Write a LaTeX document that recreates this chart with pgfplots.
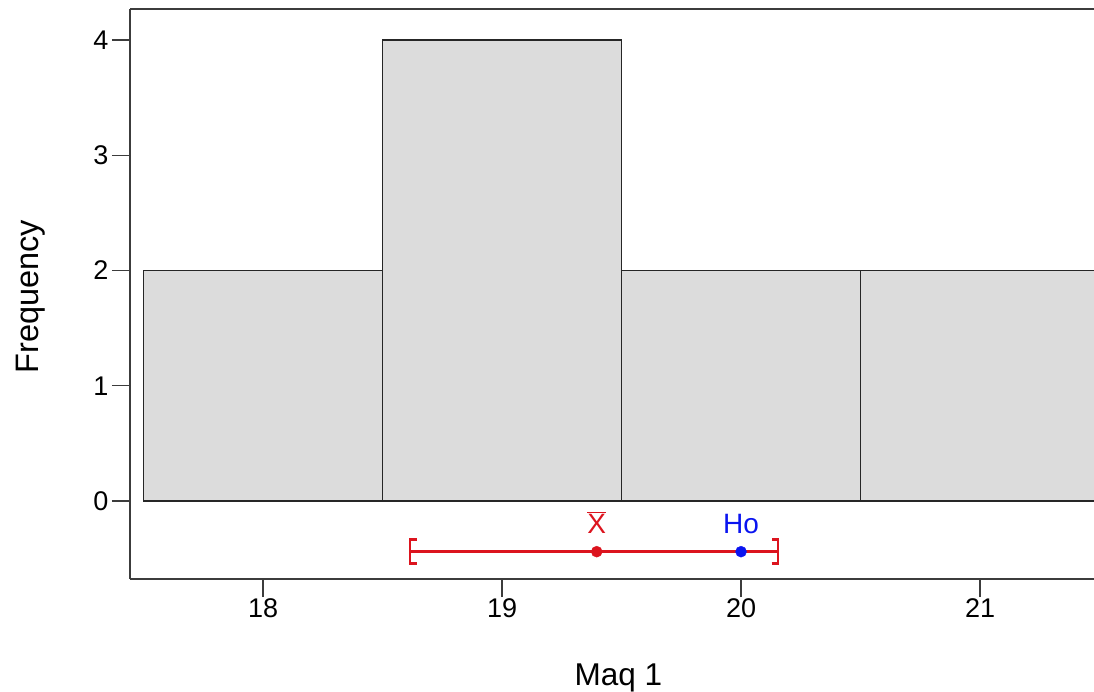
\documentclass[border=0pt]{standalone}
\usepackage{pgfplots}
\pgfplotsset{compat=1.18}
\usepackage{fontspec}
\setmainfont{Liberation Sans}
\definecolor{barfill}{RGB}{220,220,220}
\definecolor{cired}{RGB}{220,20,30}
\definecolor{hoblue}{RGB}{10,20,240}
\definecolor{axgray}{RGB}{60,60,60}
\begin{document}
\begin{tikzpicture}[x=1pt,y=1pt]
\begin{axis}[
 name=ax,
 at={(130pt,113pt)}, anchor=south west,
 scale only axis, width=964pt, height=570pt,
 xmin=17.443, xmax=21.477, ymin=-0.677, ymax=4.269,
 axis x line*=bottom, axis y line*=left,
 axis line style={axgray, line width=1.6pt},
 xtick={18,19,20,21}, ytick={0,1,2,3,4},
 tick align=outside, major tick length=18pt,
 tick style={axgray, line width=1.4pt},
 ticklabel style={font=\fontsize{27}{31}\selectfont},
 xticklabel style={yshift=2pt},
 /pgf/number format/assume math mode=true,
 xlabel={Maq 1}, ylabel={Frequency},
 every axis x label/.style={at={(axis description cs:0.5067,-0.186)}, anchor=base, font=\fontsize{31.5}{37}\selectfont},
 every axis y label/.style={at={(axis description cs:-0.0954,0.495)}, anchor=base, rotate=90, font=\fontsize{32.5}{38}\selectfont},
]
\addplot[ybar interval, fill=barfill, draw=black!85, line width=1.4pt]
  coordinates {(17.5,2) (18.5,4) (19.5,2) (20.5,2) (21.5,2)};
\addplot[cired, line width=2.8pt] coordinates {(18.615,-0.44) (20.155,-0.44)};
\addplot[cired, line width=2.8pt] coordinates {(18.642,-0.545) (18.615,-0.545) (18.615,-0.335) (18.642,-0.335)};
\addplot[cired, line width=2.8pt] coordinates {(20.128,-0.545) (20.155,-0.545) (20.155,-0.335) (20.128,-0.335)};
\addplot[only marks, mark=*, mark size=5.5pt, cired] coordinates {(19.396,-0.44)};
\addplot[only marks, mark=*, mark size=5.5pt, hoblue] coordinates {(20.0,-0.44)};
\node[cired, anchor=base, font=\fontsize{28}{32}\selectfont] at (axis cs:19.396,-0.278) {$\overline{\mbox{X}}$};
\node[hoblue, anchor=base, font=\fontsize{28}{32}\selectfont] at (axis cs:20.0,-0.278) {Ho};
\end{axis}
\draw[axgray, line width=2.2pt] (ax.north west) -- (ax.north east);
\pgfresetboundingbox
\useasboundingbox (0,0) rectangle (1094,692);
\end{tikzpicture}
\end{document}
